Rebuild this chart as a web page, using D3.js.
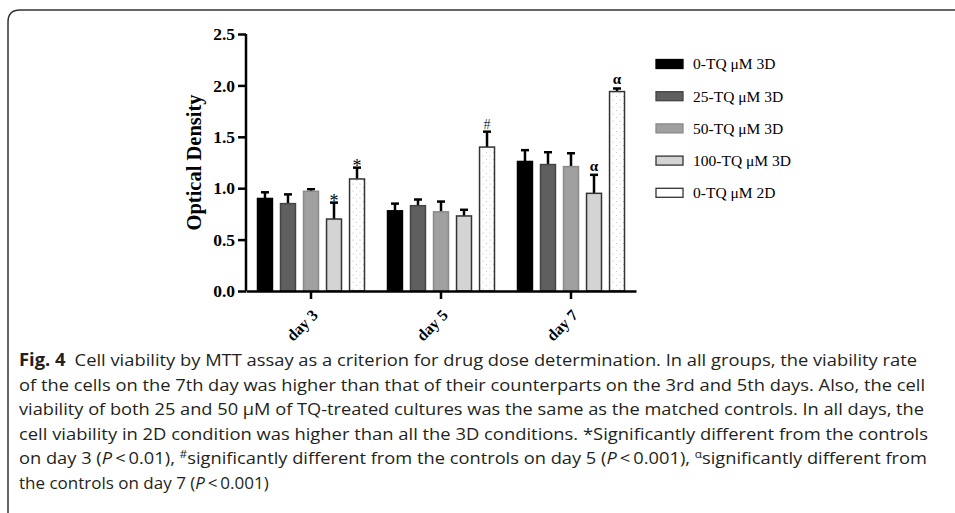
<!DOCTYPE html>
<html>
<head>
<meta charset="utf-8">
<script src="https://cdn.jsdelivr.net/npm/d3@7"></script>
<style>
  body { margin: 0; background: #fff; }
  svg { display: block; }
</style>
</head>
<body>
<div id="chart"></div>
<script>
// ---- data ----
var days = ["day 3", "day 5", "day 7"];
var series = ["0-TQ \u03bcM 3D", "25-TQ \u03bcM 3D", "50-TQ \u03bcM 3D", "100-TQ \u03bcM 3D", "0-TQ \u03bcM 2D"];
// mean optical density per series, one value per day
var means = [
  [0.90, 0.78, 1.26],
  [0.85, 0.83, 1.23],
  [0.97, 0.77, 1.21],
  [0.70, 0.73, 0.95],
  [1.09, 1.40, 1.94]
];
// error bar tops
var errTops = [
  [0.96, 0.85, 1.37],
  [0.94, 0.89, 1.35],
  [0.99, 0.87, 1.34],
  [0.86, 0.79, 1.13],
  [1.20, 1.55, 1.97]
];
// significance marks [series index, day index, symbol]
var marks = [[3, 0, "*"], [4, 0, "*"], [4, 1, "#"], [3, 2, "\u03b1"], [4, 2, "\u03b1"]];
var yTicks = [0, 0.5, 1.0, 1.5, 2.0, 2.5];

var captionLines = [
  "Cell viability by MTT assay as a criterion for drug dose determination. In all groups, the viability rate",
  "of the cells on the 7th day was higher than that of their counterparts on the 3rd and 5th days. Also, the cell",
  "viability of both 25 and 50 \u03bcM of TQ-treated cultures was the same as the matched controls. In all days, the",
  "cell viability in 2D condition was higher than all the 3D conditions. *Significantly different from the controls"
];

var fills = ["#000000", "#5f5f5f", "#a0a0a0", "#d4d4d4", "url(#dots)"];
var strokes = ["#000000", "#444444", "#8a8a8a", "#333333", "#333333"];

var W = 955, H = 513;
var serif = "'Liberation Serif', 'Times New Roman', serif";
var sans = "'Open Sans', 'Noto Sans', sans-serif";

var svg = d3.select("#chart").append("svg")
    .attr("width", W)
    .attr("height", H);

// dotted pattern for the 2D bars
var defs = svg.append("defs");
var pat = defs.append("pattern")
    .attr("id", "dots")
    .attr("patternUnits", "userSpaceOnUse")
    .attr("width", 7).attr("height", 7);
pat.append("rect").attr("width", 7).attr("height", 7).attr("fill", "#fff");
pat.append("circle").attr("cx", 2).attr("cy", 2).attr("r", 0.6).attr("fill", "#bbb");
pat.append("circle").attr("cx", 5.5).attr("cy", 5.5).attr("r", 0.6).attr("fill", "#bbb");

// frame with rounded top-left corner
svg.append("path")
    .attr("d", "M8," + H + " L8,22 Q8,10 20,10 L" + W + ",10")
    .attr("fill", "none")
    .attr("stroke", "#333")
    .attr("stroke-width", 1.5);

// ---- scales ----
var x0 = d3.scaleBand().domain(days).range([246, 636]);
var x1 = d3.scaleBand().domain(d3.range(series.length))
    .range([x0.bandwidth() / 2 - 53.5, x0.bandwidth() / 2 + 53.5])
    .paddingInner(0.35);
var y = d3.scaleLinear().domain([0, 2.5]).range([291, 34]);

// ---- bars ----
var groups = svg.selectAll(".day").data(days).enter()
    .append("g")
    .attr("class", "day")
    .attr("transform", function(d) { return "translate(" + x0(d) + ",0)"; });

groups.each(function(day, di) {
  var g = d3.select(this);
  series.forEach(function(s, si) {
    var bx = x1(si), bw = x1.bandwidth();
    var cx = bx + bw / 2;
    // error bar (upper only)
    g.append("line")
        .attr("x1", cx).attr("x2", cx)
        .attr("y1", y(means[si][di])).attr("y2", y(errTops[si][di]))
        .attr("stroke", "#000").attr("stroke-width", 2.5);
    g.append("line")
        .attr("x1", cx - 4).attr("x2", cx + 4)
        .attr("y1", y(errTops[si][di])).attr("y2", y(errTops[si][di]))
        .attr("stroke", "#000").attr("stroke-width", 2.5);
    g.append("rect")
        .attr("x", bx).attr("width", bw)
        .attr("y", y(means[si][di]))
        .attr("height", y(0) - y(means[si][di]))
        .attr("fill", fills[si])
        .attr("stroke", strokes[si])
        .attr("stroke-width", 1.5);
  });
});

// significance symbols, placed just above the error cap
marks.forEach(function(m) {
  var cx = x0(days[m[1]]) + x1(m[0]) + x1.bandwidth() / 2;
  var cap = y(errTops[m[0]][m[1]]);
  var t = svg.append("text")
      .attr("x", cx)
      .attr("text-anchor", "middle")
      .attr("font-family", serif)
      .text(m[2]);
  if (m[2] === "*") {
    t.attr("y", cap + 4).attr("font-size", "18px");
  } else if (m[2] === "#") {
    t.attr("y", cap - 2.5).attr("font-size", "14px").attr("fill", "#333");
  } else {
    t.attr("y", cap - 4).attr("font-size", "15px").attr("font-weight", "bold");
  }
});

// ---- axes ----
var yAxis = d3.axisLeft(y).tickValues(yTicks).tickFormat(d3.format(".1f")).tickSize(8).tickPadding(3);
var gy = svg.append("g").attr("transform", "translate(246,0)").call(yAxis);
gy.select(".domain").attr("stroke-width", 2.5).attr("d", "M0,291V34");
gy.selectAll(".tick line").attr("stroke-width", 2.5);
gy.selectAll("text")
    .attr("font-family", serif).attr("font-size", "17.5px").attr("font-weight", "bold").attr("fill", "#000");

var xAxis = d3.axisBottom(x0).tickSize(8).tickSizeOuter(0);
var gx = svg.append("g").attr("transform", "translate(0,291)").call(xAxis);
gx.select(".domain").attr("stroke-width", 2.5);
gx.selectAll(".tick line").attr("stroke-width", 2.5);
gx.selectAll("text")
    .attr("font-family", serif).attr("font-size", "16px").attr("font-weight", "bold").attr("fill", "#000")
    .attr("text-anchor", "end")
    .attr("x", 0).attr("y", 0).attr("dy", 0)
    .attr("transform", "translate(8,25) rotate(-45)");

svg.append("text")
    .attr("transform", "translate(201," + (y(0) + y(2.5)) / 2 + ") rotate(-90)")
    .attr("text-anchor", "middle")
    .attr("font-family", serif).attr("font-size", "20.5px").attr("font-weight", "bold")
    .text("Optical Density");

// ---- legend ----
var legend = svg.selectAll(".leg").data(series).enter()
    .append("g")
    .attr("class", "leg")
    .attr("transform", function(d, i) { return "translate(656," + (64 + i * 32.2) + ")"; });
legend.append("rect")
    .attr("x", 0).attr("y", -4.5).attr("width", 27).attr("height", 9)
    .attr("fill", function(d, i) { return i === 4 ? "#fff" : fills[i]; })
    .attr("stroke", function(d, i) { return strokes[i]; })
    .attr("stroke-width", 1.3);
legend.append("text")
    .attr("x", 37).attr("dy", "0.35em")
    .attr("font-family", serif).attr("font-size", "15.5px")
    .text(function(d) { return d; });

// ---- caption ----
var cap = svg.append("g").attr("font-family", sans).attr("font-size", "17px").attr("fill", "#231f20");
var base = 366, lh = 24.6, left = 19;
var ends = [917, 925, 924, 928, 927];

var t1 = cap.append("text").attr("x", left).attr("y", base)
    .attr("textLength", ends[0] - left).attr("lengthAdjust", "spacingAndGlyphs");
t1.append("tspan").attr("font-weight", "bold").text("Fig. 4");
t1.append("tspan").text("\u2002" + captionLines[0]);

captionLines.slice(1).forEach(function(l, i) {
  cap.append("text").attr("x", left).attr("y", base + (i + 1) * lh)
      .attr("textLength", ends[i + 1] - left).attr("lengthAdjust", "spacingAndGlyphs")
      .text(l);
});

var t5 = cap.append("text").attr("x", left).attr("y", base + 4 * lh)
    .attr("textLength", ends[4] - left).attr("lengthAdjust", "spacingAndGlyphs");
t5.append("tspan").text("on day 3 (");
t5.append("tspan").attr("font-style", "italic").text("P");
t5.append("tspan").text("\u2009<\u20090.01), ");
t5.append("tspan").attr("font-size", "11px").attr("dy", "-6").text("#");
t5.append("tspan").attr("dy", "6").text("significantly different from the controls on day 5 (");
t5.append("tspan").attr("font-style", "italic").text("P");
t5.append("tspan").text("\u2009<\u20090.001), ");
t5.append("tspan").attr("font-size", "11px").attr("dy", "-6").text("\u03b1");
t5.append("tspan").attr("dy", "6").text("significantly different from");

var t6 = cap.append("text").attr("x", left).attr("y", base + 5 * lh);
t6.append("tspan").text("the controls on day 7 (");
t6.append("tspan").attr("font-style", "italic").text("P");
t6.append("tspan").text("\u2009<\u20090.001)");
</script>
</body>
</html>
